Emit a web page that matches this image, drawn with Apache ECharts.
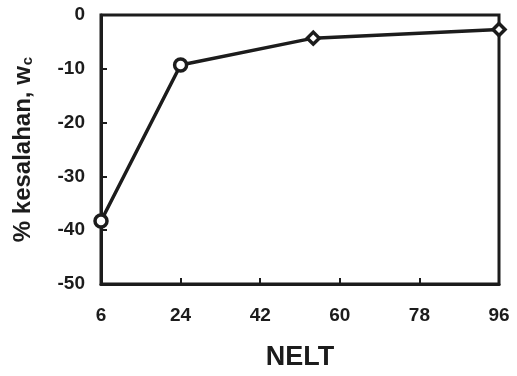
<!DOCTYPE html>
<html>
<head>
<meta charset="utf-8">
<script src="https://cdn.jsdelivr.net/npm/echarts@6/dist/echarts.min.js"></script>
<style>
  html, body { margin: 0; padding: 0; background: #fff; }
  #chart { width: 517px; height: 376px; }
</style>
</head>
<body>
<div id="chart"></div>
<script>
// Element count along the mesh vs. percentage error in w_c
const nelt = [6, 24, 54, 96];
const errorPct = [-38.3, -9.3, -4.3, -2.7];
const markerShapes = ['circle', 'circle', 'diamond', 'diamond'];
const xTicks = [6, 24, 42, 60, 78, 96];
const yTicks = [0, -10, -20, -30, -40, -50];

const ink = '#1c1c1c';
const font = 'Liberation Sans, Arial, sans-serif';

const chart = echarts.init(document.getElementById('chart'));
chart.setOption({
  backgroundColor: '#fff',
  animation: false,
  grid: { left: 101, right: 18, top: 15, bottom: 90, show: true, borderColor: ink, borderWidth: 3 },
  xAxis: {
    type: 'value',
    min: xTicks[0],
    max: xTicks[xTicks.length - 1],
    interval: xTicks[1] - xTicks[0],
    name: 'NELT',
    nameLocation: 'middle',
    nameGap: 60,
    nameTextStyle: { color: ink, fontFamily: font, fontWeight: 'bold', fontSize: 27 },
    axisLine: { show: true, onZero: false, lineStyle: { color: ink, width: 3 } },
    axisTick: { show: true, inside: true, length: 6, lineStyle: { color: ink, width: 2 } },
    axisLabel: { color: ink, fontFamily: font, fontWeight: 'bold', fontSize: 19, margin: 22 },
    splitLine: { show: false }
  },
  yAxis: {
    type: 'value',
    min: yTicks[yTicks.length - 1],
    max: yTicks[0],
    interval: 10,
    name: '{m|% kesalahan, w}{s|c}',
    nameLocation: 'middle',
    nameGap: 66,
    nameRotate: 90,
    nameTextStyle: {
      rich: {
        m: { color: ink, fontFamily: font, fontWeight: 'bold', fontSize: 24 },
        s: { color: ink, fontFamily: font, fontWeight: 'bold', fontSize: 15, verticalAlign: 'bottom', padding: [8, 0, 0, 1] }
      }
    },
    axisLine: { show: true, onZero: false, lineStyle: { color: ink, width: 3 } },
    axisTick: { show: true, inside: true, length: 6, lineStyle: { color: ink, width: 2 } },
    axisLabel: { color: ink, fontFamily: font, fontWeight: 'bold', fontSize: 19, margin: 16 },
    splitLine: { show: false }
  },
  series: [{
    type: 'line',
    data: nelt.map((x, i) => ({ value: [x, errorPct[i]], symbol: markerShapes[i] })),
    symbolSize: 12,
    showAllSymbol: true,
    lineStyle: { color: ink, width: 3.5 },
    itemStyle: { color: '#fff', borderColor: ink, borderWidth: 3.5 },
    z: 5
  }]
});
</script>
</body>
</html>
